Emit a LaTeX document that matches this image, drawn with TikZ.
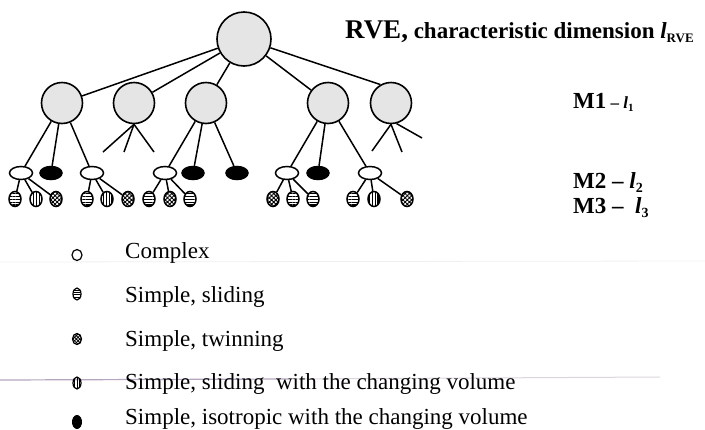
\documentclass[tikz,border=0pt]{standalone}
\usepackage{fontspec}
\setmainfont{Liberation Serif}
\usetikzlibrary{shapes.geometric,patterns.meta}
\begin{document}
\begin{tikzpicture}[x=1pt,y=-1pt,
  big/.style={circle, draw, line width=1.6pt, fill=black!10, minimum size=41pt, inner sep=0pt},
  cplx/.style={ellipse, draw, line width=1.5pt, fill=white, minimum width=23pt, minimum height=13pt, inner sep=0pt},
  isob/.style={ellipse, draw, line width=1.5pt, fill=black, minimum width=22pt, minimum height=13pt, inner sep=0pt},
  leaf/.style={ellipse, draw, line width=1.5pt, minimum width=12pt, minimum height=15pt, inner sep=0pt},
  hl/.style={leaf, pattern={Lines[angle=0,distance=2.8pt,line width=1.1pt]}},
  vl/.style={leaf, pattern={Lines[angle=90,distance=2.8pt,line width=1.1pt]}},
  tw/.style={leaf, pattern={Hatch[angle=45,distance=3pt,line width=0.9pt]}},
  edge/.style={line width=1.5pt},
  lgtext/.style={anchor=base west, inner sep=0pt, font=\fontsize{23}{23}\selectfont},
  mtext/.style={anchor=base west, inner sep=0pt}
]
\useasboundingbox (0,0) rectangle (705,429);
% faint scan lines
\draw[black!6, line width=0.8pt] (0,262) -- (705,261);
\draw[color={rgb,255:red,180;green,166;blue,190}, line width=1.2pt] (0,380) -- (290,379);
\draw[color={rgb,255:red,220;green,213;blue,222}, line width=1pt] (290,379) -- (660,377);

% tree
\node[big, minimum size=54pt] (root) at (244,39) {};
\node[big] (a1) at (62,103) {};
\node[big] (a2) at (134,103) {};
\node[big] (a3) at (206,103) {};
\node[big] (a4) at (328,103) {};
\node[big] (a5) at (391,103) {};
\draw[edge] (root) -- (a1);
\draw[edge] (root) -- (a2);
\draw[edge] (root) -- (a3);
\draw[edge] (root) -- (a4);
\draw[edge] (root) -- (a5.120);

% level 2
\node[cplx] (w1) at (21,173) {};
\node[isob] (b1) at (51,173) {};
\node[cplx] (w2) at (92,173) {};
\node[cplx] (w3) at (165,173) {};
\node[isob] (b2) at (193,173) {};
\node[isob] (b3) at (237,173) {};
\node[cplx] (w4) at (287,173) {};
\node[isob] (b4) at (318,173) {};
\node[cplx] (w5) at (370,173) {};
\draw[edge] (a1) -- (w1);
\draw[edge] (a1) -- (b1);
\draw[edge] (a1) -- (w2);
\draw[edge] (a3) -- (w3);
\draw[edge] (a3) -- (b2);
\draw[edge] (a3) -- (b3);
\draw[edge] (a4) -- (w4);
\draw[edge] (a4) -- (b4);
\draw[edge] (a4) -- (w5);

% dangling branches
\coordinate (d21) at (103,152);
\coordinate (d22) at (124,152);
\coordinate (d23) at (154,152);
\draw[edge] (a2.south) -- (d21);
\draw[edge] (a2.south) -- (d22);
\draw[edge] (a2.south) -- (d23);
\coordinate (d51) at (372,151);
\coordinate (d52) at (402,152);
\coordinate (d53) at (422,138);
\draw[edge] (a5.south) -- (d51);
\draw[edge] (a5.south) -- (d52);
\draw[edge] (a5.-75) -- (d53);

% level 3
\node[hl] (l11) at (15,199) {};
\node[vl] (l12) at (36,199) {};
\node[tw] (l13) at (56,199) {};
\node[hl] (l21) at (87,199) {};
\node[vl] (l22) at (107,199) {};
\node[tw] (l23) at (128,199) {};
\node[hl] (l31) at (149,199) {};
\node[tw] (l32) at (170,199) {};
\node[hl] (l33) at (190,199) {};
\node[tw] (l41) at (273,199) {};
\node[hl] (l42) at (293,199) {};
\node[hl] (l43) at (313,199) {};
\node[hl] (l51) at (353,199) {};
\node[vl] (l52) at (374,199) {};
\node[tw] (l53) at (407,199) {};
\foreach \p/\c in {w1/l11,w1/l12,w1/l13,w2/l21,w2/l22,w2/l23,w3/l31,w3/l32,w3/l33,w4/l41,w4/l42,w4/l43,w5/l51,w5/l52,w5/l53}
  \draw[edge] (\p) -- (\c);

% labels
\node[mtext] (title) at (345,38) {\bfseries{\fontsize{27}{27}\selectfont RVE,}{\fontsize{23}{23}\selectfont\ characteristic dimension \textit{l}{\fontsize{13}{13}\selectfont\raisebox{-4pt}{RVE}}}};
\node[mtext] (m1) at (573,108) {{\fontsize{23}{23}\selectfont\bfseries M1}{\fontsize{17}{17}\selectfont\bfseries\ – \textit{l}\raisebox{-3pt}{\fontsize{11}{11}\selectfont 1}}};
\node[mtext] (m2) at (573,188) {{\fontsize{23}{23}\selectfont\bfseries M2 – \textit{l}\raisebox{-4pt}{\fontsize{14}{14}\selectfont 2}}};
\node[mtext] (m3) at (573,213) {{\fontsize{23}{23}\selectfont\bfseries M3 – \ \textit{l}\raisebox{-4pt}{\fontsize{14}{14}\selectfont 3}}};

% legend
\node[ellipse, draw, line width=1.2pt, fill=white, minimum width=10pt, minimum height=11pt, inner sep=0pt] (s1) at (77,255) {};
\node[ellipse, draw, line width=1.2pt, minimum width=8pt, minimum height=12pt, inner sep=0pt, pattern={Lines[angle=0,distance=2.2pt,line width=0.9pt]}] (s2) at (77,294) {};
\node[ellipse, draw, line width=1.2pt, minimum width=9pt, minimum height=11pt, inner sep=0pt, pattern={Hatch[angle=45,distance=2.4pt,line width=0.8pt]}] (s3) at (77,339) {};
\node[ellipse, draw, line width=1.2pt, minimum width=8pt, minimum height=12pt, inner sep=0pt, pattern={Lines[angle=90,distance=2.2pt,line width=0.9pt]}] (s4) at (77,383) {};
\node[ellipse, draw, line width=1pt, fill=black, minimum width=9pt, minimum height=13pt, inner sep=0pt] (s5) at (77,422) {};
\node[lgtext] (t1) at (125,258) {Complex};
\node[lgtext] (t2) at (125,302) {Simple, sliding};
\node[lgtext] (t3) at (125,346) {Simple, twinning};
\node[lgtext] (t4) at (125,389) {Simple, sliding \ with the changing volume};
\node[lgtext] (t5) at (125,424) {Simple, isotropic with the changing volume};
\end{tikzpicture}
\end{document}
